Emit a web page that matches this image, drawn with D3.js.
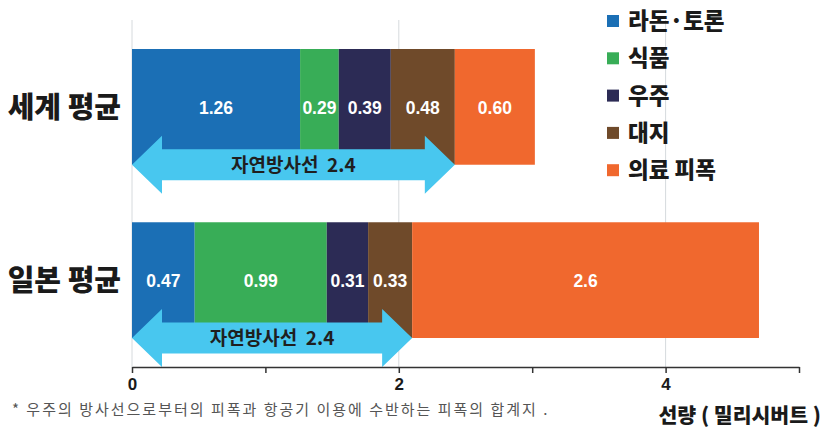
<!DOCTYPE html>
<html>
<head>
<meta charset="utf-8">
<script src="https://cdn.jsdelivr.net/npm/d3@7"></script>
<style>
  body { margin: 0; background: #fff; }
  svg { display: block; }
  text { font-family: "Liberation Sans", Arial, sans-serif; }
  .kr { font-family: "Noto Sans CJK KR", "Noto Sans", sans-serif; }
</style>
</head>
<body>
<svg width="822" height="429"></svg>
<script>
// categories, series and values
var categories = ["세계 평균", "일본 평균"];
var seriesNames = ["라돈·토론", "식품", "우주", "대지", "의료 피폭"];
var colors = ["#1b6fb5", "#38ad57", "#2c2b55", "#6f4a2a", "#f0682e"];
var worldValues = [1.26, 0.29, 0.39, 0.48, 0.60];
var japanValues = [0.47, 0.99, 0.31, 0.33, 2.6];
var valueLabels = [["1.26", "0.29", "0.39", "0.48", "0.60"], ["0.47", "0.99", "0.31", "0.33", "2.6"]];
var naturalCount = 4;          // first four series are natural radiation
var naturalLabel = "2.4";
var tickValues = [0, 1, 2, 3, 4, 5];
var tickLabels = ["0", "", "2", "", "4", ""];
var gridValues = [0, 2, 4];

var svg = d3.select("svg"),
    x = d3.scaleLinear().domain([0, 5]).range([132, 799]),
    y = d3.scaleBand().domain(categories).range([49, 338]).paddingInner(0.332).paddingOuter(0);

var allValues = [worldValues, japanValues];

// rows: stack each category
var rows = allValues.map(function(vals, i) {
  var acc = 0;
  return vals.map(function(v, j) {
    var seg = {cat: categories[i], x0: acc, x1: acc + v, color: colors[j], label: valueLabels[i][j]};
    acc += v;
    return seg;
  });
});

// gridlines
svg.append("g").selectAll("line")
  .data(gridValues)
  .enter().append("line")
    .attr("x1", function(d) { return x(d); })
    .attr("x2", function(d) { return x(d); })
    .attr("y1", 20)
    .attr("y2", 367)
    .attr("stroke", "#d6dadd")
    .attr("stroke-width", 1);

// bars
var bars = svg.append("g");
rows.forEach(function(row) {
  bars.selectAll(null)
    .data(row)
    .enter().append("rect")
      .attr("x", function(d) { return x(d.x0); })
      .attr("y", function(d) { return y(d.cat); })
      .attr("width", function(d) { return x(d.x1) - x(d.x0); })
      .attr("height", y.bandwidth())
      .attr("fill", function(d) { return d.color; });
});

// double arrows for natural radiation, centred on bar bottom
var shaftHalf = 15.5, headHalf = 29, headLen = 30;
categories.forEach(function(c, i) {
  var cy = y(c) + y.bandwidth(),
      x0 = x(0), x1 = x(d3.sum(allValues[i].slice(0, naturalCount)));
  var pts = [
    [x0, cy], [x0 + headLen, cy - headHalf], [x0 + headLen, cy - shaftHalf],
    [x1 - headLen, cy - shaftHalf], [x1 - headLen, cy - headHalf], [x1, cy],
    [x1 - headLen, cy + headHalf], [x1 - headLen, cy + shaftHalf],
    [x0 + headLen, cy + shaftHalf], [x0 + headLen, cy + headHalf]
  ];
  svg.append("polygon")
    .attr("points", pts.map(function(p) { return p.join(","); }).join(" "))
    .attr("fill", "#48c7ef");
  svg.append("text")
    .attr("class", "kr")
    .attr("x", (x0 + x1) / 2)
    .attr("y", cy + 7)
    .attr("text-anchor", "middle")
    .attr("font-size", 19)
    .attr("font-weight", 700)
    .attr("fill", "#1f1f1f")
    .attr("xml:space", "preserve")
    .text("자연방사선  " + naturalLabel);
});

// value labels, at middle of upper bar area
rows.forEach(function(row) {
  svg.append("g").selectAll("text")
    .data(row)
    .enter().append("text")
      .attr("x", function(d) { return (x(d.x0) + x(d.x1)) / 2; })
      .attr("y", function(d) { return y(d.cat) + 65; })
      .attr("text-anchor", "middle")
      .attr("font-size", 17.5)
      .attr("font-weight", 700)
      .attr("fill", "#fff")
      .text(function(d) { return d.label; });
});

// category labels
svg.append("g").selectAll("text")
  .data(categories)
  .enter().append("text")
    .attr("class", "kr")
    .attr("x", 121)
    .attr("y", function(d) { return y(d) + 69; })
    .attr("text-anchor", "end")
    .attr("font-size", 29)
    .attr("font-weight", 900)
    .attr("fill", "#1a1a1a")
    .text(function(d) { return d; });

// x axis
var axis = svg.append("g")
  .attr("transform", "translate(0,367)")
  .call(d3.axisBottom(x).tickValues(tickValues).tickSize(6).tickSizeOuter(0)
    .tickFormat(function(d, i) { return tickLabels[i]; }));
axis.select(".domain").attr("stroke", "#333").attr("stroke-width", 1.5);
axis.selectAll(".tick line").attr("stroke", "#333").attr("stroke-width", 1.5);
axis.selectAll(".tick text")
  .attr("font-family", "Liberation Sans, Arial, sans-serif")
  .attr("font-size", 17)
  .attr("font-weight", 700)
  .attr("fill", "#1a1a1a")
  .attr("dy", "0.85em");

// legend
var legend = svg.append("g").selectAll("g")
  .data(seriesNames)
  .enter().append("g")
    .attr("transform", function(d, i) { return "translate(607," + (21 + i * 37.3) + ")"; });
legend.append("rect")
  .attr("x", 0).attr("y", -6).attr("width", 12).attr("height", 12)
  .attr("fill", function(d, i) { return colors[i]; });
legend.append("text")
  .attr("class", "kr")
  .attr("x", 21)
  .attr("y", 8)
  .attr("font-size", 22.5)
  .attr("font-weight", 900)
  .attr("fill", "#1a1a1a")
  .text(function(d) { return d; });

// footnote and axis title
svg.append("text")
  .attr("class", "kr")
  .attr("x", 12)
  .attr("y", 415)
  .attr("font-size", 15)
  .attr("letter-spacing", 2)
  .attr("fill", "#555")
  .text("* 우주의 방사선으로부터의 피폭과 항공기 이용에 수반하는 피폭의 합계지 .");

svg.append("text")
  .attr("class", "kr")
  .attr("x", 821)
  .attr("y", 423)
  .attr("text-anchor", "end")
  .attr("font-size", 20.5)
  .attr("font-weight", 900)
  .attr("fill", "#1a1a1a")
  .attr("xml:space", "preserve")
  .text("선량 ( 밀리시버트 )");
</script>
</body>
</html>
